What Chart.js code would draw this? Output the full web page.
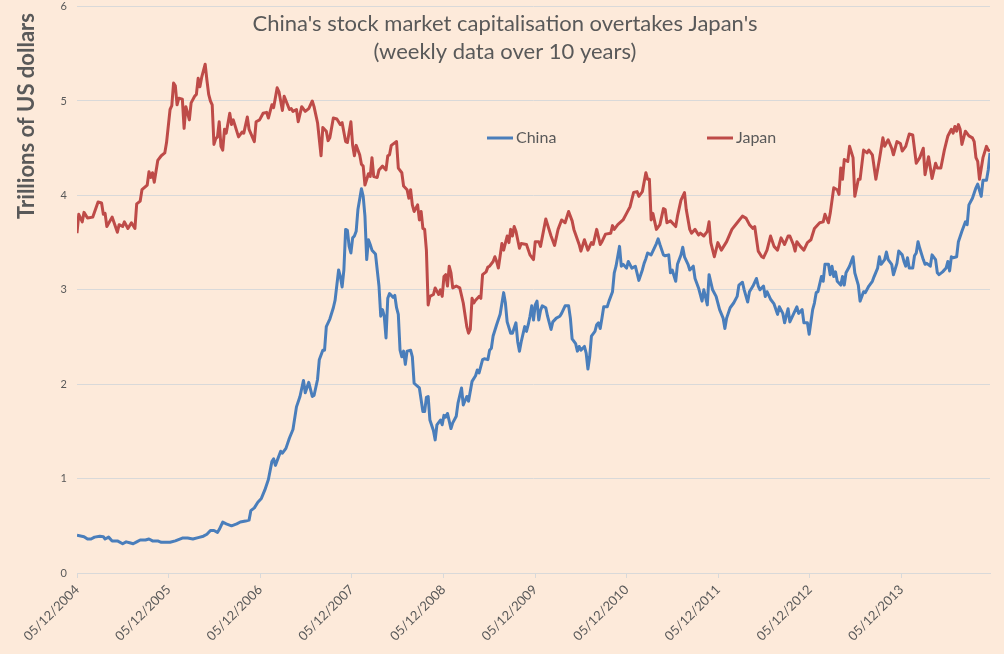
<!DOCTYPE html>
<html>
<head>
<meta charset="utf-8">
<script src="https://cdn.jsdelivr.net/npm/chart.js@4/dist/chart.umd.min.js"></script>
<style>
  html, body { margin: 0; padding: 0; background: #fdeada; }
  #wrap { width: 1004px; height: 654px; position: relative; }
</style>
</head>
<body>
<div id="wrap"><canvas id="capChart"></canvas></div>
<script>
"use strict";
// weeks counted from 05/12/2004
const tickWeeks = [0, 52.14, 104.29, 156.43, 208.71, 260.86, 313, 365.14, 417.43, 469.57];
const tickLabels = ["05/12/2004", "05/12/2005", "05/12/2006", "05/12/2007", "05/12/2008",
  "05/12/2009", "05/12/2010", "05/12/2011", "05/12/2012", "05/12/2013"];
const yTicks = [0, 1, 2, 3, 4, 5, 6];

const titleLines = ["China's stock market capitalisation overtakes Japan's", "(weekly data over 10 years)"];
const yTitle = "Trillions of US dollars";
const seriesNames = ["China", "Japan"];

const chinaWeeks = [0,4,6,8,10,13,15,16,18,20,23,26,28,30,32,34,36,39,41,43,46,48,53,56,60,63,66,69,72,74,76,78,80,81,83,85,88,91,93,96,98,99,101,103,105,107,109,111,112,113,116,117,119,121,123,125,127,129,130,132,134,135,137,138,140,141,142,144,146,147,149,150,151,152,153,154,155,156,157,158,159,160,162,163,164,165,166,167,168,170,171,172,173,174,175,176,177,178,180,181,182,183,184,185,186,187,188,190,191,192,195,197,198,199,200,201,203,204,205,207,208,209,210,211,213,214,216,217,219,220,222,223,225,227,228,229,231,232,234,235,236,237,239,241,243,244,245,247,248,250,251,252,253,255,256,257,258,259,260,261,262,263,264,265,267,268,270,271,273,275,276,278,280,281,282,284,285,286,287,289,290,291,292,293,295,296,297,298,299,300,302,303,305,306,307,309,310,311,313,314,316,318,320,322,323,324,325,327,328,330,331,332,334,335,337,338,339,341,342,344,345,346,348,349,351,352,354,356,357,359,360,362,364,366,368,369,370,372,374,376,377,379,380,382,383,385,387,388,389,391,392,393,395,397,399,400,402,403,405,406,408,410,411,413,414,416,417,419,420,421,422,424,425,426,428,429,430,431,432,433,435,436,437,438,440,442,443,445,446,448,449,451,453,454,456,457,458,460,461,462,464,465,467,468,470,471,472,473,474,476,477,478,479,480,482,483,484,486,487,489,490,491,493,495,496,497,498,499,501,502,504,506,507,508,510,512,513,515,516,518,519,520];
const chinaValues = [0.40,0.385,0.36,0.36,0.38,0.39,0.385,0.36,0.38,0.34,0.34,0.31,0.33,0.32,0.31,0.33,0.35,0.35,0.36,0.34,0.34,0.325,0.325,0.34,0.37,0.37,0.36,0.375,0.39,0.41,0.45,0.45,0.43,0.46,0.54,0.52,0.50,0.52,0.54,0.55,0.56,0.66,0.69,0.75,0.79,0.88,0.99,1.18,1.21,1.14,1.29,1.27,1.32,1.43,1.52,1.76,1.87,2.04,1.91,2.02,1.87,1.88,2.05,2.26,2.36,2.36,2.61,2.69,2.81,2.89,3.21,3.14,3.03,3.21,3.64,3.63,3.46,3.39,3.55,3.57,3.62,3.85,4.07,3.99,3.78,3.32,3.53,3.48,3.42,3.38,3.21,3.04,2.72,2.79,2.72,2.49,2.91,2.96,2.92,2.94,2.81,2.74,2.36,2.29,2.35,2.21,2.35,2.36,2.29,2.01,1.96,1.71,1.71,1.86,1.87,1.62,1.51,1.41,1.57,1.62,1.57,1.67,1.65,1.69,1.53,1.59,1.66,1.80,1.96,1.78,1.87,1.82,2.03,2.09,2.15,2.12,2.26,2.27,2.26,2.36,2.38,2.51,2.63,2.74,2.97,2.86,2.66,2.54,2.54,2.65,2.45,2.35,2.45,2.61,2.56,2.63,2.72,2.83,2.68,2.84,2.88,2.68,2.78,2.83,2.81,2.72,2.58,2.66,2.70,2.72,2.75,2.83,2.83,2.70,2.48,2.43,2.35,2.40,2.36,2.40,2.33,2.16,2.29,2.51,2.56,2.63,2.65,2.59,2.70,2.82,2.82,2.88,2.98,3.18,3.25,3.46,3.25,3.27,3.23,3.30,3.23,3.25,3.10,3.21,3.28,3.33,3.39,3.37,3.41,3.49,3.54,3.48,3.37,3.36,3.37,3.18,3.21,3.09,3.27,3.37,3.45,3.35,3.27,3.21,3.25,3.12,3.02,2.88,3.00,2.84,3.16,3.00,2.93,2.79,2.70,2.59,2.70,2.81,2.86,2.93,3.05,3.08,3.00,2.87,2.98,3.04,3.12,3.04,3.00,3.04,2.93,2.98,2.90,2.85,2.74,2.82,2.75,2.65,2.80,2.66,2.74,2.82,2.75,2.79,2.65,2.65,2.53,2.79,2.86,2.97,2.98,3.14,3.09,3.27,3.27,3.16,3.25,3.14,3.19,3.09,3.05,3.14,3.05,3.18,3.25,3.35,3.18,3.05,2.88,2.98,2.97,3.04,3.09,3.14,3.23,3.35,3.27,3.32,3.40,3.32,3.27,3.16,3.28,3.41,3.37,3.30,3.25,3.34,3.23,3.23,3.36,3.39,3.51,3.44,3.32,3.27,3.28,3.25,3.37,3.32,3.18,3.16,3.19,3.23,3.30,3.20,3.35,3.34,3.35,3.51,3.62,3.72,3.69,3.90,3.97,4.08,4.12,3.99,4.16,4.16,4.27,4.45];

const japanWeeks = [0,1,3,4,6,9,12,14,15,16,17,20,23,24,26,27,29,31,33,34,36,37,40,41,42,43,44,46,48,50,51,53,54,55,56,57,58,60,61,62,64,65,67,68,69,70,71,73,74,75,76,77,78,79,80,81,82,83,84,85,87,88,89,92,94,95,97,98,101,102,104,106,108,109,110,111,112,114,115,117,118,121,122,123,125,126,128,130,132,134,135,137,139,140,142,143,144,146,148,150,151,153,154,156,157,158,159,161,162,163,164,166,167,168,169,171,172,174,176,177,178,179,182,183,185,186,188,189,190,191,192,194,195,196,197,198,199,200,201,203,204,206,207,208,209,210,211,212,213,214,216,218,220,222,223,224,225,226,227,229,230,231,233,234,235,237,238,239,240,242,243,245,246,247,248,249,250,252,253,256,258,260,261,263,264,267,268,270,272,274,276,278,280,282,283,286,287,289,291,293,294,296,298,299,301,304,305,306,308,311,313,315,317,319,320,322,324,325,326,327,328,330,332,334,335,336,338,341,342,344,346,347,349,350,352,354,355,357,359,360,361,363,365,367,370,373,376,379,381,383,385,386,388,390,391,393,395,397,399,401,403,405,406,408,409,410,412,414,416,418,420,423,425,426,428,429,431,433,434,435,436,437,439,440,442,443,445,446,448,450,451,453,455,457,459,460,462,464,465,467,469,470,472,474,476,478,480,482,483,485,487,489,490,492,494,496,498,499,500,501,502,503,504,506,508,510,511,512,513,514,516,518,519,520];
const japanValues = [3.60,3.80,3.72,3.82,3.76,3.77,3.93,3.92,3.80,3.81,3.67,3.77,3.61,3.69,3.67,3.72,3.65,3.71,3.65,3.91,3.94,4.06,4.11,4.25,4.19,4.24,4.14,4.37,4.42,4.45,4.56,4.91,4.95,5.19,5.16,4.96,5.03,5.02,4.71,4.94,4.80,4.98,5.05,5.07,5.24,5.15,5.25,5.39,5.22,5.07,5.00,4.96,4.54,4.60,4.62,4.78,4.52,4.48,4.70,4.66,4.87,4.75,4.80,4.62,4.67,4.66,4.83,4.70,4.57,4.78,4.80,4.87,4.88,4.82,4.89,4.96,4.93,5.14,5.10,4.90,5.05,4.91,4.92,4.89,4.91,4.78,4.94,4.89,4.92,5.00,4.94,4.77,4.42,4.72,4.68,4.58,4.61,4.82,4.81,4.75,4.77,4.57,4.56,4.78,4.53,4.42,4.53,4.43,4.33,4.31,4.11,4.23,4.20,4.40,4.20,4.19,4.27,4.31,4.27,4.42,4.43,4.53,4.57,4.29,4.24,4.10,4.06,3.97,4.06,3.90,3.83,3.90,3.74,3.83,3.65,3.64,3.42,2.84,2.93,2.95,3.02,2.95,3.00,2.93,3.14,3.16,3.04,3.25,3.18,3.02,3.04,3.02,2.86,2.61,2.54,2.58,2.91,2.86,2.89,2.93,2.91,3.16,3.19,3.24,3.25,3.30,3.35,3.30,3.23,3.49,3.42,3.57,3.50,3.64,3.57,3.67,3.62,3.44,3.49,3.48,3.37,3.32,3.51,3.51,3.46,3.75,3.69,3.57,3.47,3.64,3.74,3.71,3.83,3.73,3.64,3.48,3.41,3.53,3.42,3.50,3.48,3.64,3.48,3.51,3.59,3.60,3.68,3.64,3.69,3.74,3.81,3.88,4.03,4.04,3.99,4.04,4.24,4.17,4.17,3.74,3.81,3.64,3.69,3.86,3.85,3.71,3.73,3.67,3.78,3.95,4.03,3.85,3.64,3.60,3.64,3.58,3.60,3.57,3.62,3.72,3.50,3.35,3.50,3.42,3.51,3.64,3.71,3.78,3.76,3.69,3.65,3.67,3.41,3.35,3.34,3.42,3.57,3.46,3.42,3.55,3.48,3.57,3.57,3.48,3.41,3.51,3.46,3.42,3.50,3.53,3.65,3.71,3.72,3.80,3.71,3.81,4.08,4.06,4.01,4.29,4.17,4.38,4.36,4.52,4.40,3.99,4.17,4.17,4.48,4.45,4.48,4.43,4.17,4.38,4.61,4.52,4.59,4.50,4.43,4.57,4.55,4.47,4.52,4.65,4.64,4.34,4.40,4.50,4.22,4.41,4.18,4.34,4.29,4.29,4.48,4.63,4.70,4.66,4.73,4.68,4.75,4.70,4.54,4.68,4.63,4.61,4.57,4.40,4.36,4.17,4.40,4.52,4.48,4.47];

const textColor = "#595959";
const gridColor = "#d9d9d9";
const chinaColor = "#4a7ebb";
const japanColor = "#be4b48";

Chart.defaults.font.family = "Lato, 'Open Sans', sans-serif";
Chart.defaults.color = textColor;

function toPoints(weeks, values) {
  return weeks.map((w, i) => ({ x: w, y: values[i] }));
}

// title, legend and axis title sit inside the plot like in the original
const overlay = {
  id: "overlay",
  afterDraw(chart) {
    const ctx = chart.ctx;
    ctx.save();
    ctx.fillStyle = textColor;
    ctx.textBaseline = "middle";

    ctx.textAlign = "center";
    ctx.font = "22px Lato";
    titleLines.forEach((t, i) => ctx.fillText(t, 505, 24 + i * 28));

    // legend
    ctx.font = "16px Lato";
    ctx.textAlign = "left";
    const legendItems = [
      { name: seriesNames[0], color: chinaColor, x: 487 },
      { name: seriesNames[1], color: japanColor, x: 707 },
    ];
    legendItems.forEach((it) => {
      ctx.strokeStyle = it.color;
      ctx.lineWidth = 3;
      ctx.beginPath();
      ctx.moveTo(it.x, 138);
      ctx.lineTo(it.x + 26, 138);
      ctx.stroke();
      ctx.fillText(it.name, it.x + 29, 138);
    });

    // y axis title
    ctx.translate(27, 116);
    ctx.rotate(-Math.PI / 2);
    ctx.textAlign = "center";
    ctx.font = "bold 22px Lato";
    ctx.fillText(yTitle, 0, 0);
    ctx.restore();
  },
};

const capCtx = document.getElementById("capChart");
const capChart = new Chart(capCtx, {
  type: "line",
  data: {
    datasets: [
      {
        label: seriesNames[0],
        data: toPoints(chinaWeeks, chinaValues),
        borderColor: chinaColor,
        backgroundColor: chinaColor,
        borderWidth: 3,
        pointRadius: 0,
        tension: 0,
        borderJoinStyle: "round",
      },
      {
        label: seriesNames[1],
        data: toPoints(japanWeeks, japanValues),
        borderColor: japanColor,
        backgroundColor: japanColor,
        borderWidth: 3,
        pointRadius: 0,
        tension: 0,
        borderJoinStyle: "round",
      },
    ],
  },
  options: {
    responsive: true,
    maintainAspectRatio: false,
    animation: false,
    layout: { padding: { top: 0, right: 14, left: 0, bottom: 0 } },
    plugins: {
      legend: { display: false },
      title: { display: false },
      tooltip: { enabled: false },
    },
    scales: {
      x: {
        type: "linear",
        min: 0,
        max: 520,
        afterBuildTicks: (s) => {
          s.ticks = tickWeeks.map((v) => ({ value: v }));
        },
        afterFit: (s) => {
          s.height = 81;
        },
        ticks: {
          autoSkip: false,
          minRotation: 45,
          maxRotation: 45,
          padding: 4,
          color: textColor,
          font: { size: 13 },
          callback: (v, i) => tickLabels[i],
        },
        grid: {
          drawOnChartArea: false,
          drawTicks: true,
          tickLength: 5,
          color: gridColor,
        },
        border: { color: gridColor },
      },
      y: {
        min: yTicks[0],
        max: yTicks[yTicks.length - 1],
        afterFit: (s) => {
          s.width = 77;
        },
        ticks: {
          stepSize: 1,
          padding: 0,
          color: textColor,
          font: { size: 11 },
        },
        // invisible tick marks keep the labels clear of the plot
        grid: { color: gridColor, drawTicks: true, tickLength: 10, tickColor: "rgba(0,0,0,0)" },
        border: { display: false },
      },
    },
  },
  plugins: [overlay],
});
</script>
</body>
</html>
